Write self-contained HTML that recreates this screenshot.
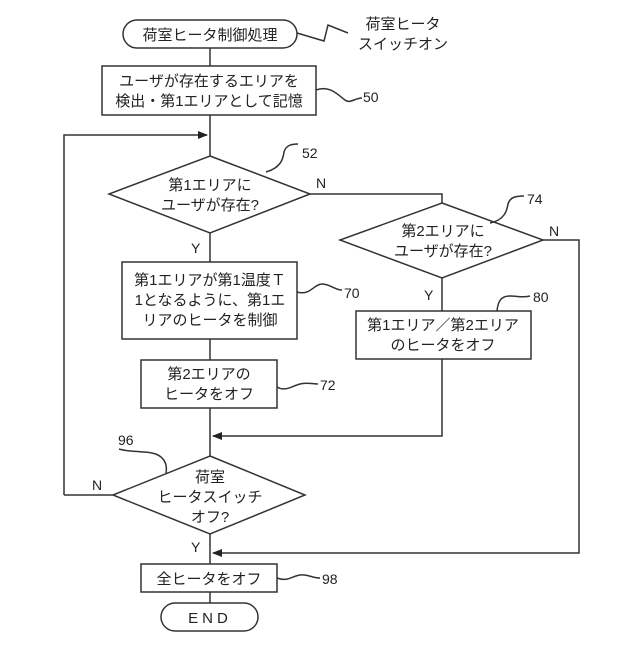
<!DOCTYPE html>
<html><head><meta charset="utf-8"><style>
html,body{margin:0;padding:0;background:#fff;}
svg text{font-family:"Liberation Sans","Noto Sans CJK JP",sans-serif;fill:#222;}
</style></head><body>
<svg width="640" height="640" viewBox="0 0 640 640" xmlns="http://www.w3.org/2000/svg">
<defs><marker id="a" markerWidth="10" markerHeight="8" refX="9" refY="4" orient="auto" markerUnits="userSpaceOnUse"><path d="M0,0 L10,4 L0,8 z" fill="#222"/></marker></defs>
<g stroke="#333" stroke-width="1.5" fill="none">
<rect x="123" y="20" width="174" height="28" rx="14" fill="#fff"/>
<polyline points="297,33 324,41 328,25 348,33"/>
<line x1="210" y1="48" x2="210" y2="66"/>
<rect x="102" y="66" width="214" height="49"/>
<line x1="210" y1="115" x2="210" y2="156"/>
<polyline points="64,495 64,135 207,135" marker-end="url(#a)"/>
<polygon points="210,156 310,194 210,233 109,194"/>
<polyline points="310,194 442,194 442,203"/>
<polygon points="442,203 543,240 442,278 340,240"/>
<line x1="210" y1="233" x2="210" y2="262"/>
<rect x="122" y="262" width="175" height="77"/>
<line x1="210" y1="339" x2="210" y2="360"/>
<rect x="141" y="360" width="136" height="48"/>
<line x1="210" y1="408" x2="210" y2="456"/>
<line x1="442" y1="278" x2="442" y2="311"/>
<rect x="356" y="311" width="175" height="48"/>
<polyline points="442,359 442,436 213,436" marker-end="url(#a)"/>
<polygon points="210,456 305,495 210,534 113,495"/>
<line x1="113" y1="495" x2="64" y2="495"/>
<polyline points="543,240 579,240 579,553 213,553" marker-end="url(#a)"/>
<line x1="210" y1="534" x2="210" y2="564"/>
<rect x="141" y="564" width="136" height="28"/>
<line x1="210" y1="592" x2="210" y2="603"/>
<rect x="161" y="603" width="97" height="28" rx="14"/>
<path d="M316,90 C330,85 338,95 345,100 C350,104 355,98 362,98"/>
<path d="M266,172 C280,168 283,160 284,152 C286,145 292,144 298,144"/>
<path d="M297,292 C310,296 314,284 322,284 C330,284 335,290 342,290"/>
<path d="M277,387 C285,392 292,386 300,384 C306,382 312,384 318,384"/>
<path d="M490,223 C505,220 507,210 508,204 C510,197 516,196 524,196"/>
<path d="M497,311 C498,300 502,296 510,296 C518,296 522,298 530,296"/>
<path d="M166,473 C168,462 162,455 152,453 C140,451 128,452 119,449"/>
<path d="M277,578 C288,582 292,576 300,575 C308,574 312,578 320,578"/>
</g>
<g font-size="15" text-anchor="middle">
<text x="210" y="40">荷室ヒータ制御処理</text>
<text x="403" y="29">荷室ヒータ</text>
<text x="403" y="49">スイッチオン</text>
<text x="209" y="86">ユーザが存在するエリアを</text>
<text x="209" y="106">検出・第1エリアとして記憶</text>
<text x="210" y="190">第1エリアに</text>
<text x="210" y="210">ユーザが存在?</text>
<text x="443" y="236">第2エリアに</text>
<text x="443" y="256">ユーザが存在?</text>
<text x="210" y="285">第1エリアが第1温度Ｔ</text>
<text x="210" y="305">1となるように、第1エ</text>
<text x="210" y="325">リアのヒータを制御</text>
<text x="209" y="379">第2エリアの</text>
<text x="209" y="399">ヒータをオフ</text>
<text x="443" y="330">第1エリア／第2エリア</text>
<text x="443" y="350">のヒータをオフ</text>
<text x="210" y="482">荷室</text>
<text x="210" y="502">ヒータスイッチ</text>
<text x="210" y="522">オフ?</text>
<text x="209" y="584">全ヒータをオフ</text>
<text x="210" y="623" letter-spacing="4">END</text>
</g>
<g font-size="14">
<text x="363" y="102">50</text>
<text x="302" y="158">52</text>
<text x="344" y="298">70</text>
<text x="320" y="390">72</text>
<text x="527" y="204">74</text>
<text x="533" y="302">80</text>
<text x="118" y="445">96</text>
<text x="322" y="584">98</text>
<text x="316" y="188">N</text>
<text x="549" y="236">N</text>
<text x="92" y="490">N</text>
<text x="191" y="253">Y</text>
<text x="424" y="300">Y</text>
<text x="191" y="552">Y</text>
</g>
</svg>
</body></html>
